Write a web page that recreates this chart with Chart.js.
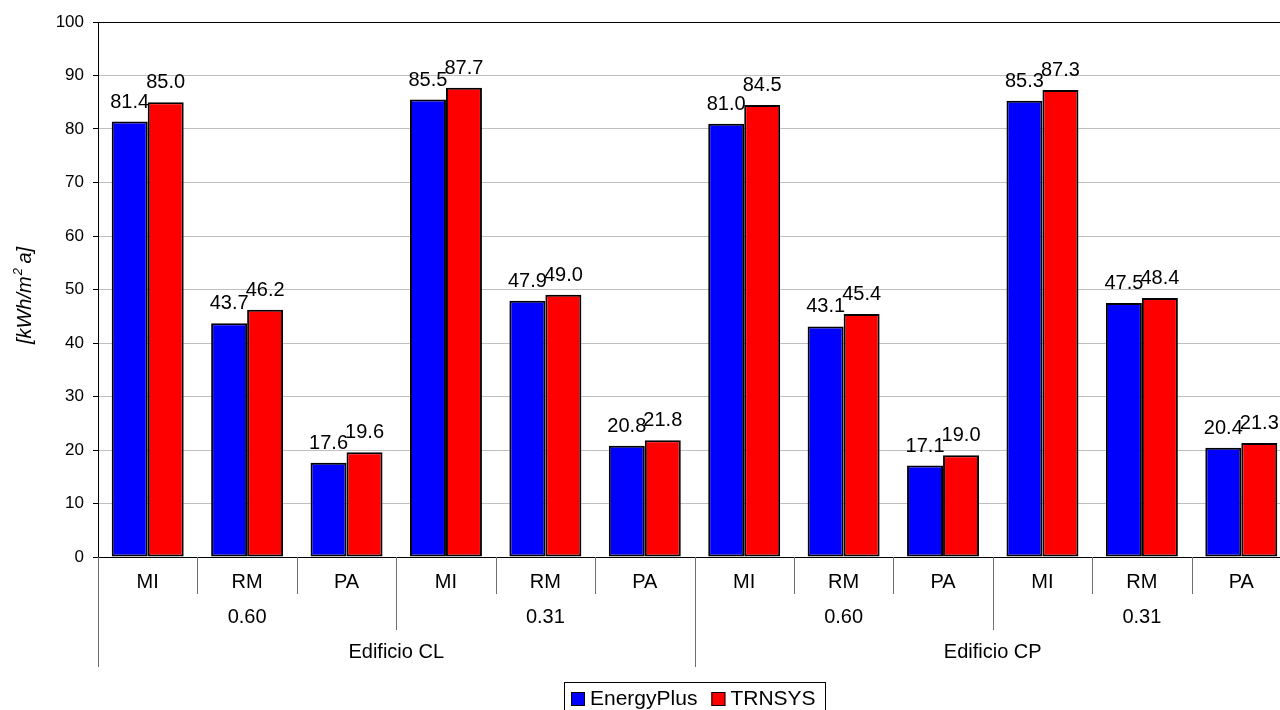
<!DOCTYPE html>
<html>
<head>
<meta charset="utf-8">
<script src="https://cdn.jsdelivr.net/npm/chart.js@4/dist/chart.umd.min.js"></script>
<style>
  html, body { margin: 0; padding: 0; background: #fff; overflow: hidden; }
  #wrap { width: 1300px; height: 710px; }
</style>
</head>
<body>
<div id="wrap"><canvas id="myChart" width="1300" height="710"></canvas></div>
<script>
// categories (three levels, bottom to top)
var categories = ["MI", "RM", "PA", "MI", "RM", "PA", "MI", "RM", "PA", "MI", "RM", "PA"];
var ratios = ["0.60", "0.31", "0.60", "0.31"];
var buildings = ["Edificio CL", "Edificio CP"];

var energyPlus = [81.4, 43.7, 17.6, 85.5, 47.9, 20.8, 81.0, 43.1, 17.1, 85.3, 47.5, 20.4];
var trnsys = [85.0, 46.2, 19.6, 87.7, 49.0, 21.8, 84.5, 45.4, 19.0, 87.3, 48.4, 21.3];

var yTicks = [0, 10, 20, 30, 40, 50, 60, 70, 80, 90, 100];

var font = "'Liberation Sans', Arial, sans-serif";

// numbers on top of every bar
var valueLabels = {
  id: "valueLabels",
  afterDatasetsDraw: function(chart) {
    var ctx = chart.ctx;
    ctx.save();
    ctx.font = "20px " + font;
    ctx.fillStyle = "#000";
    ctx.textAlign = "center";
    ctx.textBaseline = "alphabetic";
    chart.data.datasets.forEach(function(ds, i) {
      chart.getDatasetMeta(i).data.forEach(function(bar, j) {
        ctx.fillText(ds.data[j].toFixed(1), bar.x, bar.y - 14);
      });
    });
    ctx.restore();
  }
};

// y title with a real superscript
var yTitle = {
  id: "yTitle",
  afterDraw: function(chart) {
    var ctx = chart.ctx;
    var a = chart.chartArea;
    var parts = ["[kWh/m", "2", " a]"];
    ctx.save();
    ctx.translate(25, (a.top + a.bottom) / 2 + 6);
    ctx.rotate(-Math.PI / 2);
    ctx.fillStyle = "#000";
    ctx.textBaseline = "middle";
    ctx.textAlign = "left";
    var big = "italic 20px " + font, small = "italic 13px " + font;
    ctx.font = big;
    var w0 = ctx.measureText(parts[0]).width, w2 = ctx.measureText(parts[2]).width;
    ctx.font = small;
    var w1 = ctx.measureText(parts[1]).width;
    var x = -(w0 + w1 + w2) / 2;
    ctx.font = big;
    ctx.fillText(parts[0], x, 0);
    ctx.font = small;
    ctx.fillText(parts[1], x + w0 + 1, -7);
    ctx.font = big;
    ctx.fillText(parts[2], x + w0 + w1, 0);
    ctx.restore();
  }
};

// grouped category axis like excel
var groupAxis = {
  id: "groupAxis",
  afterDraw: function(chart) {
    var ctx = chart.ctx;
    var xs = chart.scales.x;
    var n = categories.length;
    var w = (xs.right - xs.left) / n;
    var base = xs.top;
    ctx.save();
    ctx.strokeStyle = "#6e6e6e";
    ctx.lineWidth = 1;
    for (var i = 0; i <= n; i++) {
      var x = Math.round(xs.getPixelForValue(0) - w / 2 + i * w) + 0.5;
      var len = 37;
      if (i % 6 == 0) len = 110;
      else if (i % 3 == 0) len = 73;
      ctx.beginPath();
      ctx.moveTo(x, base);
      ctx.lineTo(x, base + len);
      ctx.stroke();
    }
    ctx.fillStyle = "#000";
    ctx.textAlign = "center";
    ctx.textBaseline = "middle";
    ctx.font = "20px " + font;
    categories.forEach(function(c, i) {
      ctx.fillText(c, xs.getPixelForValue(i), base + 25);
    });
    ratios.forEach(function(r, i) {
      var x = (xs.getPixelForValue(i * 3) + xs.getPixelForValue(i * 3 + 2)) / 2;
      ctx.fillText(r, x, base + 60);
    });
    buildings.forEach(function(b, i) {
      var x = (xs.getPixelForValue(i * 6) + xs.getPixelForValue(i * 6 + 5)) / 2;
      ctx.fillText(b, x, base + 95);
    });
    ctx.restore();
  }
};

// boxed legend under the chart
var boxLegend = {
  id: "boxLegend",
  afterDraw: function(chart) {
    var ctx = chart.ctx;
    ctx.save();
    ctx.font = "21px " + font;
    var left = 564, top = 682;
    ctx.strokeStyle = "#000";
    ctx.lineWidth = 1;
    ctx.strokeRect(left + 0.5, top + 0.5, 825 - left, 40);
    var x = left + 7;
    ctx.textBaseline = "alphabetic";
    ctx.textAlign = "left";
    chart.data.datasets.forEach(function(ds) {
      ctx.fillStyle = ds.backgroundColor;
      ctx.fillRect(x, 692, 14, 14);
      ctx.strokeRect(x + 0.5, 692.5, 13, 13);
      ctx.fillStyle = "#000";
      ctx.fillText(ds.label, x + 19, 705);
      x += 19 + ctx.measureText(ds.label).width + 14;
    });
    ctx.restore();
  }
};

new Chart("myChart", {
  type: "bar",
  data: {
    labels: categories,
    datasets: [{
      label: "EnergyPlus",
      data: energyPlus,
      backgroundColor: "#0000ff",
      borderColor: "#000",
      borderWidth: 2,
      borderSkipped: false
    }, {
      label: "TRNSYS",
      data: trnsys,
      backgroundColor: "#ff0000",
      borderColor: "#000",
      borderWidth: 2,
      borderSkipped: false
    }]
  },
  options: {
    responsive: false,
    animation: false,
    layout: { padding: { left: 0, top: 22, right: 9, bottom: 0 } },
    datasets: { bar: { categoryPercentage: 0.724, barPercentage: 1 } },
    plugins: {
      legend: { display: false },
      tooltip: { enabled: false }
    },
    scales: {
      x: {
        ticks: { display: false },
        grid: { display: false },
        border: { display: true, color: "#000", width: 1 },
        afterFit: function(s) { s.height = 153; }
      },
      y: {
        min: 0,
        max: 100,
        afterBuildTicks: function(s) { s.ticks = yTicks.map(function(v) { return { value: v }; }); },
        ticks: { color: "#000", font: { size: 17, family: font }, padding: 9 },
        grid: {
          color: function(c) { return c.tick && c.tick.value == 100 ? "#000" : "#c0c0c0"; },
          tickColor: "#000",
          tickLength: 5
        },
        border: { display: true, color: "#000", width: 1 },
        afterFit: function(s) { s.width = 98; }
      }
    }
  },
  plugins: [valueLabels, yTitle, groupAxis, boxLegend]
});
</script>
</body>
</html>
